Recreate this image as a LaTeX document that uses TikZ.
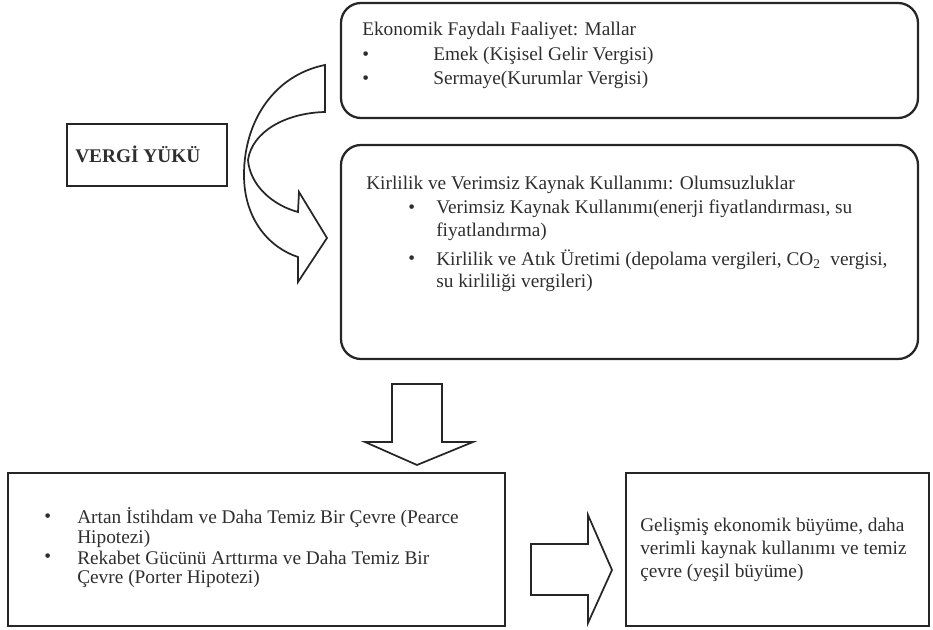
\documentclass[tikz,border=0pt]{standalone}
\usepackage{fontspec}
\setmainfont{Liberation Serif}
\usetikzlibrary{fit}
\begin{document}
\begin{tikzpicture}[x=0.75pt,y=-0.75pt,
  rbox/.style={draw=black!85, line width=1.7pt, rounded corners=15pt, inner sep=0pt},
  sbox/.style={draw=black!85, line width=1.5pt, inner sep=0pt},
  txt/.style={anchor=west, inner sep=0pt, font=\fontsize{14.5}{17}\selectfont, text=black!82},
  blockarrow/.style={draw=black!85, line width=1.3pt, fill=white, line join=miter}]
\useasboundingbox (0,0) rectangle (933,630);

% boxes
\node[rbox, fit={(341,3) (918,118)}] (b1) {};
\node[rbox, fit={(341,145) (918,359)}] (b2) {};
\node[sbox, fit={(67,124) (227,186)}] (vy) {};
\node[sbox, fit={(8,473) (505,626)}] (b3) {};
\node[sbox, fit={(626,473) (929,626)}] (b4) {};

% VERGI YUKU
\node[txt, font=\fontsize{14.5}{17}\selectfont\bfseries] (vyt) at (75,154) {VERGİ YÜKÜ};

% top box text
\node[txt] (b1h) at (362,31) {Ekonomik Faydalı Faaliyet: Mallar};
\node[txt] (b1d1) at (362,56) {\textbullet};
\node[txt] (b1i1) at (433,56) {Emek (Kişisel Gelir Vergisi)};
\node[txt] (b1d2) at (362,80) {\textbullet};
\node[txt] (b1i2) at (433,80) {Sermaye(Kurumlar Vergisi)};

% middle box text
\node[txt] (b2h) at (366,185) {Kirlilik ve Verimsiz Kaynak Kullanımı: Olumsuzluklar};
\node[txt] (b2d1) at (408,209) {\textbullet};
\node[txt] (b2i1a) at (436,209) {Verimsiz Kaynak Kullanımı(enerji fiyatlandırması, su};
\node[txt] (b2i1b) at (436,232) {fiyatlandırma)};
\node[txt] (b2d2) at (408,260) {\textbullet};
\node[txt] (b2i2a) at (436,260) {Kirlilik ve Atık Üretimi (depolama vergileri, CO\textsubscript{2}\ \ vergisi,};
\node[txt] (b2i2b) at (436,283) {su kirliliği vergileri)};

% bottom left text
\node[txt] (b3d1) at (44,518) {\textbullet};
\node[txt] (b3i1a) at (77,518) {Artan İstihdam ve Daha Temiz Bir Çevre (Pearce};
\node[txt] (b3i1b) at (77,539) {Hipotezi)};
\node[txt] (b3d2) at (44,558) {\textbullet};
\node[txt] (b3i2a) at (77,558) {Rekabet Gücünü Arttırma ve Daha Temiz Bir};
\node[txt] (b3i2b) at (77,579) {Çevre (Porter Hipotezi)};

% right box text
\node[txt] (b4a) at (640,527) {Gelişmiş ekonomik büyüme, daha};
\node[txt] (b4b) at (640,550) {verimli kaynak kullanımı ve temiz};
\node[txt] (b4c) at (640,573) {çevre (yeşil büyüme)};

% curved arrow
\draw[blockarrow] (325,65) .. controls (275,75) and (244,120) .. (244,175)
  .. controls (244,220) and (270,248) .. (298,257)
  -- (298,282) -- (327,238) -- (299,192) -- (298,212)
  .. controls (272,205) and (250,185) .. (248,160)
  .. controls (252,132) and (285,113) .. (325,112) -- cycle;

% down arrow
\draw[blockarrow] (392,384) -- (442,384) -- (442,442) -- (473,442) -- (417,465)
  -- (365,442) -- (392,442) -- cycle;

% right arrow
\draw[blockarrow] (531,544) -- (588,544) -- (588,515) -- (612,570) -- (588,623)
  -- (588,595) -- (531,595) -- cycle;
\end{tikzpicture}
\end{document}
